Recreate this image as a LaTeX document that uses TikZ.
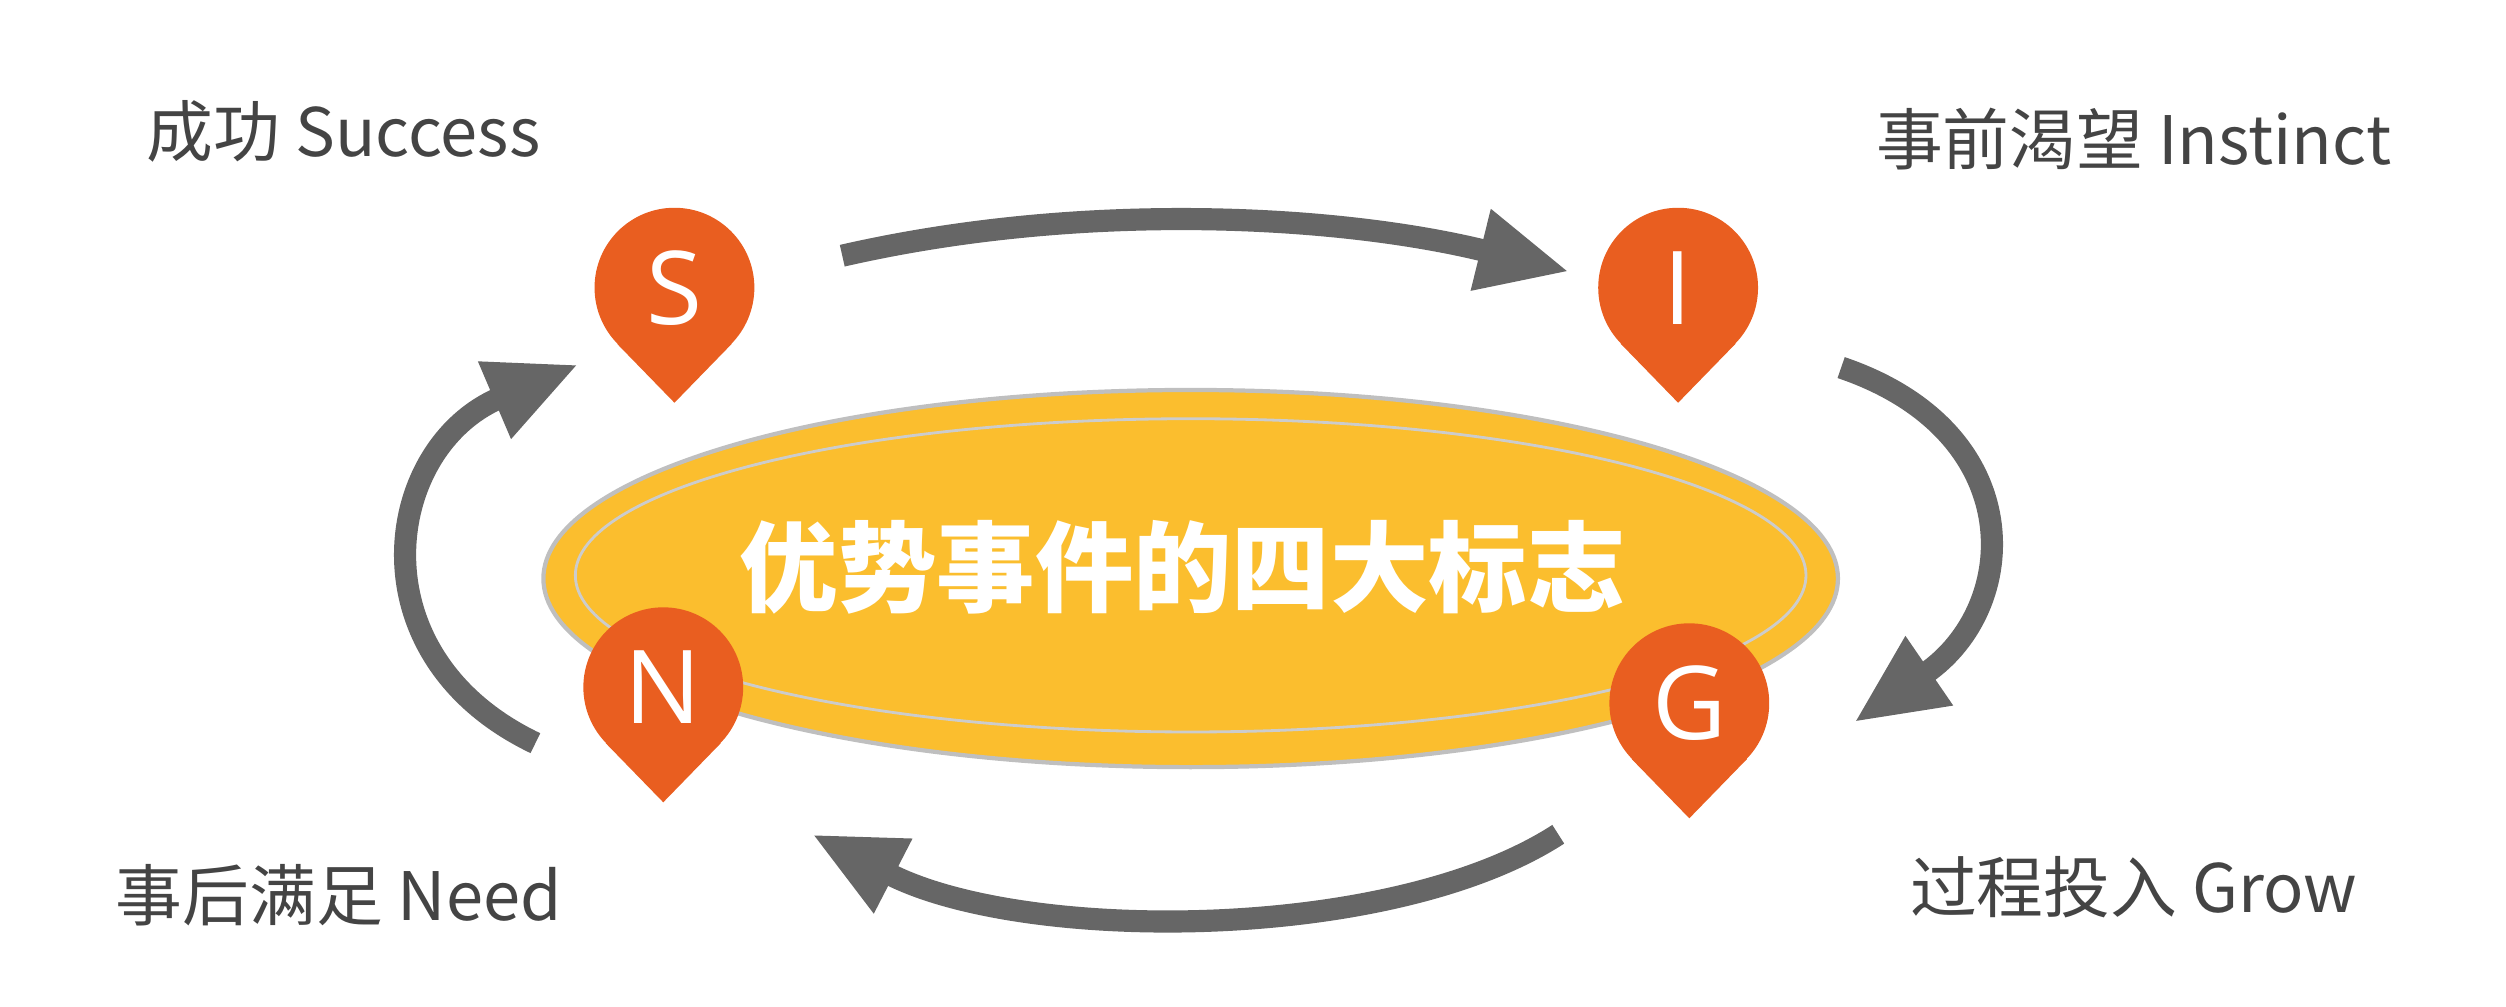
\documentclass[tikz,border=0pt]{standalone}
\usepackage{fontspec}
\setmainfont{Open Sans}
\newfontfamily\cjk{Noto Sans CJK SC}
\usetikzlibrary{arrows.meta}
\definecolor{pinColor}{RGB}{233,94,32}
\definecolor{ringColor}{RGB}{251,190,46}
\definecolor{arrowColor}{RGB}{102,102,102}
\definecolor{labelColor}{RGB}{68,68,68}
\tikzstyle{board} = [x = 0.01598cm, y = -0.01598cm]
\tikzstyle{pinText} = [text=white, font=\fontsize{29}{30}\selectfont]
\tikzstyle{cornerLabel} = [text=labelColor, font=\cjk\fontsize{19}{22}\selectfont]
\tikzstyle{loopArrow} = [draw=arrowColor, line width=6.3pt, -{Triangle[length=26pt, width=22pt]}]
\newcommand{\pinMark}[4]{
  \fill [pinColor] (#2, #3) circle (50);
  \fill [pinColor] (#2 - 36, #3 + 35) -- (#2 + 36, #3 + 35) -- (#2, #3 + 72) -- cycle;
  \node [pinText] (#1) at (#2, #3) {#4};
}
\begin{document}
\begin{tikzpicture}[board]
  \useasboundingbox (0,0) rectangle (1568,630);
  % central ellipse
  \filldraw [fill=ringColor, draw=black!25, line width=1.2pt] (745,362) ellipse [x radius=405, y radius=118];
  \draw [white!80!black, line width=0.8pt] (745,360) ellipse [x radius=385, y radius=98];
  \node [text=white, font=\cjk\bfseries\fontsize{28}{30}\selectfont] (title) at (740,355) {优势事件的四大标志};
  % pins
  \pinMark{s}{422}{180}{S}
  \pinMark{i}{1050}{180}{I}
  \pinMark{n}{415}{430}{N}
  \pinMark{g}{1057}{440}{G}
  % corner labels
  \node [cornerLabel] (success) at (215,82) {成功 Success};
  \node [cornerLabel] (instinct) at (1335,87) {事前渴望 Instinct};
  \node [cornerLabel] (need) at (212,560) {事后满足 Need};
  \node [cornerLabel] (grow) at (1335,555) {过程投入 Grow};
  % loop arrows
  \coordinate (sOut) at (527,160);
  \coordinate (iIn) at (982,170);
  \coordinate (iOut) at (1152,230);
  \coordinate (gIn) at (1160,452);
  \coordinate (gOut) at (975,522);
  \coordinate (nIn) at (508,522);
  \coordinate (nOut) at (335,465);
  \coordinate (sIn) at (362,228);
  \draw [loopArrow] (sOut) .. controls (680,125) and (840,135) .. (iIn);
  \draw [loopArrow] (iOut) .. controls (1270,270) and (1265,380) .. (gIn);
  \draw [loopArrow] (gOut) .. controls (870,590) and (640,590) .. (nIn);
  \draw [loopArrow] (nOut) .. controls (220,410) and (240,280) .. (sIn);
\end{tikzpicture}
\end{document}
